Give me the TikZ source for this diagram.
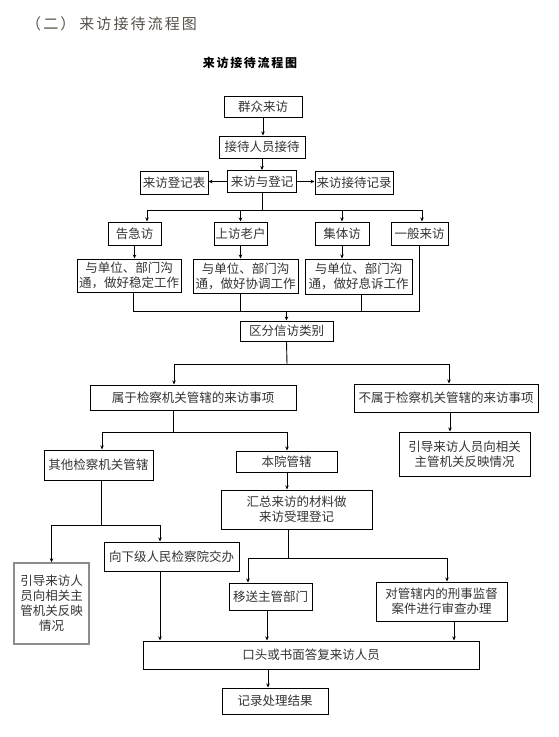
\documentclass[tikz,border=0pt]{standalone}
\usepackage{fontspec}
\newfontfamily\cjk{Noto Sans CJK SC}
\newfontfamily\cjktitle{Noto Sans CJK SC}[LetterSpace=14]
\newfontfamily\cjksub{Noto Sans CJK SC}[LetterSpace=14]
\usetikzlibrary{arrows.meta}
\definecolor{titlec}{RGB}{88,80,70}
\begin{document}
\begin{tikzpicture}[x=1pt,y=-1pt,
  box/.style={draw=black, line width=1pt, text=black!80, font=\cjk\fontsize{12.5}{15}\selectfont, align=center, inner sep=0pt},
  graybox/.style={box, draw=black!45, line width=1.4pt},
  ln/.style={line width=0.9pt, draw=black},
  arr/.style={ln, -{Stealth[length=4pt,width=3.5pt]}},
]
\useasboundingbox (0,0) rectangle (558,737);
% titles
\node[anchor=west, text=titlec, font=\cjktitle\fontsize{15}{15}\selectfont, inner sep=0pt] (title) at (26,24) {（二）\hspace{4pt}来访接待流程图};
\node[font=\cjksub\bfseries\fontsize{12}{12}\selectfont, inner sep=0pt] (sub) at (250,63) {来访接待流程图};

% top part
\node[box, minimum width=78pt, minimum height=21pt] (qzlf) at (263,106.5) {群众来访};
\node[box, minimum width=86pt, minimum height=22pt] (jdry) at (262,147) {接待人员接待};
\node[box, minimum width=69pt, minimum height=22pt] (lfdj) at (262,181.5) {来访与登记};
\node[box, minimum width=68pt, minimum height=23pt] (djb) at (174,182.5) {来访登记表};
\node[box, minimum width=78pt, minimum height=23pt] (jdjl) at (354,182.5) {来访接待记录};

\draw[arr] (qzlf.south) -- (qzlf.south |- jdry.north);
\draw[arr] (jdry.south) -- (jdry.south |- lfdj.north);
\draw[arr] (lfdj.west) -- (lfdj.west -| djb.east);
\draw[arr] (lfdj.east) -- (lfdj.east -| jdjl.west);

% four kinds
\node[box, minimum width=53pt, minimum height=23pt] (gj) at (134.5,233.5) {告急访};
\node[box, minimum width=53pt, minimum height=23pt] (sflh) at (240.5,233.5) {上访老户};
\node[box, minimum width=54pt, minimum height=23pt] (jtf) at (342,233.5) {集体访};
\node[box, minimum width=57pt, minimum height=23pt] (yblf) at (419.5,233.5) {一般来访};

\coordinate (j1) at (262,210);
\draw[ln] (lfdj.south) -- (j1);
\draw[arr] (j1) -| ([xshift=12.5pt]gj.north);
\draw[arr] (j1) -| (sflh.north);
\draw[arr] (j1) -| (jtf.north);
\draw[arr] (j1) -| ([xshift=2.5pt]yblf.north);

\node[box, minimum width=104pt, minimum height=33pt] (r1) at (129,275.5) {与单位、部门沟\\通，做好稳定工作};
\node[box, minimum width=105pt, minimum height=34pt] (r2) at (245.5,276) {与单位、部门沟\\通，做好协调工作};
\node[box, minimum width=107pt, minimum height=35pt] (r3) at (358.5,276.5) {与单位、部门沟\\通，做好息诉工作};

\draw[arr] (gj.south) -- (gj.south |- r1.north);
\draw[arr] (sflh.south) -- (sflh.south |- r2.north);
\draw[arr] (jtf.south) -- (jtf.south |- r3.north);

\node[box, minimum width=93pt, minimum height=20pt] (qf) at (286.5,331) {区分信访类别};
\coordinate (j2) at (286.5,311);
\coordinate (r1o) at ([xshift=4pt]r1.south);
\coordinate (r2o) at (sflh.south |- r2.south);
\coordinate (r3o) at ([xshift=2.5pt]r3.south);
\draw[ln] (r1o) |- (j2);
\draw[ln] (r2o) |- (j2);
\draw[ln] (r3o) |- (j2);
\draw[ln] (yblf.south) |- (j2);
\draw[arr] (j2) -- (qf.north);

% classification
\node[box, minimum width=206pt, minimum height=25pt] (sy) at (193,397.5) {属于检察机关管辖的来访事项};
\node[box, minimum width=184pt, minimum height=28pt] (bsy) at (446,398) {不属于检察机关管辖的来访事项};
\node[box, minimum width=131pt, minimum height=44pt] (yd1) at (464.5,454) {引导来访人员向相关\\主管机关反映情况};

\coordinate (j3) at (287,364);
\draw[ln] (qf.south) -- (j3);
\draw[arr] (j3) -| ([xshift=-19pt]sy.north);
\draw[arr] (j3) -| ([xshift=3pt]bsy.north);
\coordinate (bsyo) at ([xshift=4pt]bsy.south);
\draw[arr] (bsyo) -- (bsyo |- yd1.north);

\node[box, minimum width=109pt, minimum height=30pt] (qt) at (98.5,465) {其他检察机关管辖};
\node[box, minimum width=101pt, minimum height=21pt] (by) at (286.5,461.5) {本院管辖};
\node[box, minimum width=151pt, minimum height=39pt] (hz) at (296.5,509.5) {汇总来访的材料做\\来访受理登记};

\coordinate (j4) at (173,432);
\draw[ln] ([xshift=-20pt]sy.south) -- (j4);
\draw[arr] (j4) -| ([xshift=3.5pt]qt.north);
\draw[arr] (j4) -| ([xshift=0.5pt]by.north);
\coordinate (byo) at ([xshift=0.5pt]by.south);
\draw[arr] (byo) -- (byo |- hz.north);

% lower left
\node[graybox, minimum width=75pt, minimum height=81pt] (yd2) at (51.5,603.5) {引导来访人\\员向相关主\\管机关反映\\情况};
\node[box, minimum width=135pt, minimum height=29pt] (xj) at (171.5,556.5) {向下级人民检察院交办};

\coordinate (j5) at (101,525);
\draw[ln] ([xshift=2.5pt]qt.south) -- (j5);
\draw[arr] (j5) -| (yd2.north);
\draw[arr] (j5) -| ([xshift=-11.5pt]xj.north);

% lower right
\node[box, minimum width=83pt, minimum height=27pt] (ys) at (270.5,596.5) {移送主管部门};
\node[box, minimum width=131pt, minimum height=39pt] (dgx) at (441.5,601.5) {对管辖内的刑事监督\\案件进行审查办理};

\coordinate (j6) at (288,558);
\draw[ln] ([xshift=-8.5pt]hz.south) -- (j6);
\draw[arr] (j6) -| ([xshift=-22.5pt]ys.north);
\draw[arr] (j6) -| ([xshift=5.5pt]dgx.north);

% bottom
\node[box, minimum width=336pt, minimum height=28pt] (kt) at (311,655) {口头或书面答复来访人员};
\node[box, minimum width=106pt, minimum height=26pt] (jl) at (275,701) {记录处理结果};

\coordinate (xjo) at ([xshift=-11.5pt]xj.south);
\coordinate (yso) at ([xshift=-3.5pt]ys.south);
\coordinate (dgxo) at ([xshift=12.5pt]dgx.south);
\coordinate (kto) at ([xshift=-43pt]kt.south);
\draw[arr] (xjo) -- (xjo |- kt.north);
\draw[arr] (yso) -- (yso |- kt.north);
\draw[arr] (dgxo) -- (dgxo |- kt.north);
\draw[arr] (kto) -- (kto |- jl.north);
\end{tikzpicture}
\end{document}
